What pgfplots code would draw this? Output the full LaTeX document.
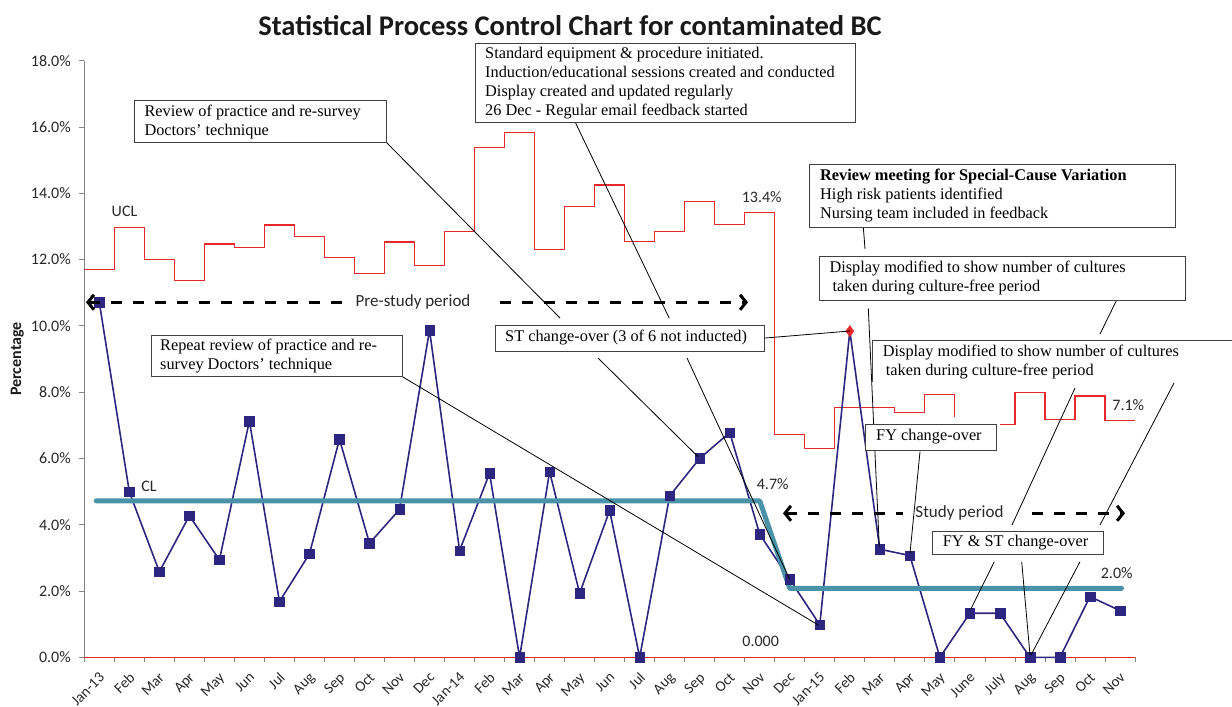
\documentclass[border=0pt]{standalone}
\usepackage{pgfplots}
\pgfplotsset{compat=1.18}
\usepackage{fontspec}
\setmainfont{Carlito}
\newfontfamily\tnr{Liberation Serif}
\usetikzlibrary{arrows.meta}
\definecolor{navy}{RGB}{44,38,128}
\definecolor{clteal}{RGB}{74,146,168}
\definecolor{uclred}{RGB}{232,40,40}
\definecolor{axgrey}{RGB}{134,134,134}
\definecolor{txt}{RGB}{40,40,40}
\tikzset{mytip/.tip={Straight Barb[length=6pt, width=15pt, line width=3pt]}}
\begin{document}
\begin{tikzpicture}
\begin{axis}[
  at={(84.3pt,-657.3pt)}, anchor=south west,
  x=30.02pt, y=33.15pt,
  xmin=-0.5, xmax=34.5, ymin=0, ymax=18,
  axis lines*=left,
  axis line style={axgrey, line width=0.8pt},
  every tick/.style={axgrey, line width=0.8pt},
  clip=false,
  tick align=outside,
  xtick={0,...,34},
  xticklabels={Jan-13,Feb,Mar,Apr,May,Jun,Jul,Aug,Sep,Oct,Nov,Dec,Jan-14,Feb,Mar,Apr,May,Jun,Jul,Aug,Sep,Oct,Nov,Dec,Jan-15,Feb,Mar,Apr,May,June,July,Aug,Sep,Oct,Nov},
  major x tick style={draw=none},
  minor xtick={-0.5,0.5,...,34.5},
  minor tick length=5pt,
  major tick length=5pt,
  ytick={0,2,...,18},
  yticklabels={0.0\%,2.0\%,4.0\%,6.0\%,8.0\%,10.0\%,12.0\%,14.0\%,16.0\%,18.0\%},
  yticklabel style={font=\fontsize{16}{19}\selectfont, text=txt, xshift=-5pt},
  xticklabel style={font=\fontsize{15}{18}\selectfont, text=txt, yshift=-9pt, xshift=-1pt, rotate=45, anchor=north east, inner sep=0pt},
]
% UCL
\addplot[uclred, line width=1.2pt, const plot mark left] coordinates {
(-0.5,11.69) (0.5,12.96) (1.5,12.00) (2.5,11.36) (3.5,12.47) (4.5,12.37) (5.5,13.04) (6.5,12.70) (7.5,12.05) (8.5,11.58) (9.5,12.53) (10.5,11.82) (11.5,12.84) (12.5,15.37) (13.5,15.84) (14.5,12.31) (15.5,13.59) (16.5,14.25) (17.5,12.54) (18.5,12.84) (19.5,13.74) (20.5,13.06) (21.5,13.42) (22.5,6.73) (23.5,6.30) (24.5,7.53) (26.5,7.38) (27.5,7.93) (28.5,7.24)};
\addplot[uclred, line width=1.2pt, const plot mark left] coordinates {
(30,7.03) (30.5,7.98) (31.5,7.18) (32.5,7.88) (33.5,7.14) (34.5,7.14)};
% LCL
\addplot[uclred, line width=1.2pt] coordinates {(-0.5,0) (34.5,0)};
% data line
\addplot[navy, line width=1.6pt] coordinates {
(0,10.71) (1,4.99) (2,2.58) (3,4.27) (4,2.94) (5,7.13) (6,1.68) (7,3.12) (8,6.58) (9,3.44) (10,4.46) (11,9.87) (12,3.22) (13,5.55) (14,0) (15,5.60) (16,1.93) (17,4.43) (18,0) (19,4.87) (20,6.00) (21,6.78) (22,3.71) (23,2.35) (24,0.98) (25,9.84) (26,3.26) (27,3.07) (28,0) (29,1.33) (30,1.33) (31,0) (32,0) (33,1.83) (34,1.41)};
% CL
\addplot[clteal, line width=5pt, line cap=round, line join=round] coordinates {(-0.1,4.72) (22,4.72) (23,2.08) (34.05,2.08)};
% markers
\addplot[only marks, mark=square*, mark size=4.8pt, mark options={fill=navy, draw=navy}] coordinates {
(0,10.71) (1,4.99) (2,2.58) (3,4.27) (4,2.94) (5,7.13) (6,1.68) (7,3.12) (8,6.58) (9,3.44) (10,4.46) (11,9.87) (12,3.22) (13,5.55) (14,0) (15,5.60) (16,1.93) (17,4.43) (18,0) (19,4.87) (20,6.00) (21,6.78) (22,3.71) (23,2.35) (24,0.98) (26,3.26) (27,3.07) (28,0) (29,1.33) (30,1.33) (31,0) (32,0) (33,1.83) (34,1.41)};
\addplot[only marks, mark=diamond*, mark size=5.5pt, mark options={fill=uclred, draw=uclred}] coordinates {(25,9.84)};
\end{axis}
\begin{scope}[x=1pt,y=-1pt]
\tikzset{ann/.style={anchor=west, align=left, inner sep=0pt, font=\tnr\fontsize{16.3}{19}\selectfont},
  box/.style={draw=black!75, line width=0.9pt, fill=white},
  lead/.style={black, line width=0.8pt},
  num/.style={font=\fontsize{16}{19}\selectfont, text=txt, inner sep=0pt},
  darr/.style={black, line width=3.5pt, dash pattern=on 11pt off 11pt}}
% title and y label
\node[anchor=base, font=\bfseries\fontsize{28.5}{32}\selectfont, text=black!90] at (570,35) {Statistical Process Control Chart for contaminated BC};
\node[rotate=90, font=\bfseries\fontsize{16}{19}\selectfont, text=black!90] at (17.3,359) {Percentage};
% labels
\node[num] at (124.5,211.7) {UCL};
\node[num] at (149,486) {CL};
\node[num] at (761.7,196.7) {13.4\%};
\node[num] at (772.7,484.3) {4.7\%};
\node[num] at (760.7,641) {0.000};
\node[num] at (1128.3,405) {7.1\%};
\node[num] at (1116.7,572.7) {2.0\%};
% period arrows
\draw[darr, {mytip}-] (86,302.3) -- (342,302.3);
\draw[darr, -{mytip}] (500,302.3) -- (748,302.3);
\node[font=\fontsize{17}{20}\selectfont, text=txt] at (413,302.3) {Pre-study period};
\draw[darr, {mytip}-] (783,513.3) -- (903,513.3);
\draw[darr, -{mytip}] (1032,513.3) -- (1125,513.3);
\node[font=\fontsize{17}{20}\selectfont, text=txt] at (959.5,513.3) {Study period};
% leader lines
\draw[lead] (386,142) -- (560,318);
\draw[lead] (575,121.7) -- (669.3,318.3);
\draw[lead] (598,358) -- (698,456.7);
\draw[lead] (687,358) -- (789.5,579);
\draw[lead] (761.7,338.3) -- (850,331);
\draw[lead] (396.7,373.3) -- (818.3,625);
\draw[lead] (863.3,227) -- (865,249);
\draw[lead] (1116.7,300) -- (1100,334);
\draw[lead] (868.3,308.3) -- (879.3,546.7);
\draw[lead] (920,451.7) -- (910,553.3);
\draw[lead] (1075,388) -- (1012,525);
\draw[lead] (1174,383) -- (1100,525);
\draw[lead] (994.3,561.7) -- (970.7,609.3);
\draw[lead] (1021.7,561.7) -- (1030,655);
\draw[lead] (1080,561.7) -- (1031,655);
% boxes
\draw[box] (134.3,100.7) rectangle (386,142.3);
\node[ann] at (144.3,121.5) {Review of practice and re-survey\\Doctors’ technique};
\draw[box] (475,43.3) rectangle (855,122.3);
\node[ann] at (485,82.8) {Standard equipment \& procedure initiated.\\Induction/educational sessions created and conducted\\Display created and updated regularly\\26 Dec - Regular email feedback started};
\draw[box] (495,325) rectangle (764.3,351);
\node[ann] at (505,338) {ST change-over (3 of 6 not inducted)};
\draw[box] (151,335) rectangle (402.3,376.7);
\node[ann] at (160,355.8) {Repeat review of practice and re-\\survey Doctors’ technique};
\draw[box] (809.3,164) rectangle (1175.7,227.3);
\node[ann] at (820,195.7) {\bfseries Review meeting for Special-Cause Variation\\High risk patients identified\\Nursing team included in feedback};
\draw[box] (819,256) rectangle (1185,300);
\node[ann] at (829.3,278) {Display modified to show number of cultures\\\hspace*{3pt}taken during culture-free period};
\draw[black!75, line width=0.9pt] (872.7,381.7) -- (872.7,340.7) -- (1232,340.7);
\node[ann] at (882.7,361.7) {Display modified to show number of cultures\\\hspace*{3pt}taken during culture-free period};
\draw[box] (865.7,424) rectangle (996.7,450);
\node[ann] at (876,437) {FY change-over};
\draw[box] (932.3,531.7) rectangle (1103.3,554.3);
\node[ann] at (942.7,543) {FY \& ST change-over};
\end{scope}
\pgfresetboundingbox
\useasboundingbox (0,0) rectangle (1232pt,-707pt);
\end{tikzpicture}
\end{document}
